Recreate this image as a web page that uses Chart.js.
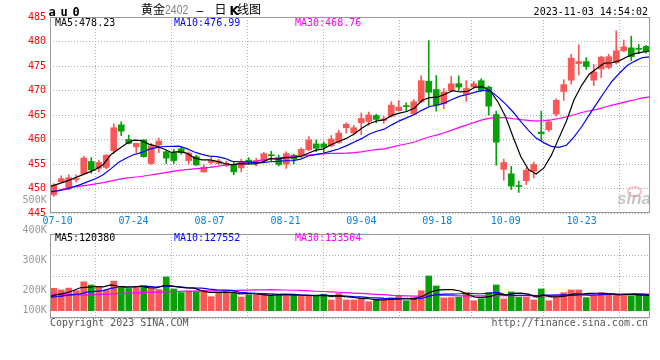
<!DOCTYPE html>
<html><head><meta charset="utf-8">
<script src="https://cdn.jsdelivr.net/npm/chart.js@4.4.0/dist/chart.umd.min.js"></script>
<style>
html,body{margin:0;padding:0;background:#fff;}
#wrap{position:relative;width:660px;height:360px;overflow:hidden;}
canvas{position:absolute;left:0;top:0;}
.t{position:absolute;white-space:pre;font-family:'DejaVu Sans Mono',monospace;font-size:10px;line-height:12px;color:#000;}
</style></head><body>
<div id="wrap">
<canvas id="pc" width="660" height="360"></canvas>
<canvas id="vc" width="660" height="360"></canvas>

<div class="t" style="left:48.5px;top:4.8px;font-weight:bold;font-size:12px;line-height:14px;letter-spacing:4.8px;">au0</div>
<div class="t" style="left:141px;top:2px;font-family:'Noto Sans CJK SC';font-size:12px;line-height:14px;">黄金</div>
<div class="t" style="left:165px;top:3px;font-family:'Liberation Sans';font-size:12.5px;line-height:14px;color:#808080;transform:scaleX(0.84);transform-origin:0 0;">2402</div>
<div class="t" style="left:196.5px;top:3.6px;font-family:'Liberation Sans';font-size:12px;line-height:14px;">–</div>
<div class="t" style="left:214.5px;top:2px;font-family:'Noto Sans CJK SC';font-size:12px;line-height:14px;">日</div>
<div class="t" style="left:229.5px;top:3.9px;font-family:'DejaVu Sans';font-weight:bold;font-size:12px;line-height:14px;">K</div>
<div class="t" style="left:237px;top:2px;font-family:'Noto Sans CJK SC';font-size:12px;line-height:14px;">线图</div>
<div class="t" style="right:12px;top:5.5px;">2023-11-03 14:54:02</div>

<div class="t" style="left:55px;top:17.2px;">MA5:478.23</div>
<div class="t" style="left:174px;top:17.2px;color:#0000ff;">MA10:476.99</div>
<div class="t" style="left:295px;top:17.2px;color:#ff00ff;">MA30:468.76</div>

<div class="t" style="left:55px;top:232.2px;">MA5:120380</div>
<div class="t" style="left:174px;top:232.2px;color:#0000ff;">MA10:127552</div>
<div class="t" style="left:295px;top:232.2px;color:#ff00ff;">MA30:133504</div>

<div class="t" style="left:22.6px;top:193.8px;color:#999;">500K</div>
<div class="t" style="left:22.6px;top:223.8px;color:#999;">400K</div>
<div class="t" style="left:22.6px;top:254.2px;color:#999;">300K</div>
<div class="t" style="left:22.6px;top:284.2px;color:#999;">200K</div>
<div class="t" style="left:22.6px;top:303.8px;color:#999;">100K</div>

<div class="t" style="left:50px;top:316.5px;color:#555;">Copyright 2023 SINA.COM</div>
<div class="t" style="right:12px;top:316.5px;color:#555;">http://finance.sina.com.cn</div>

<div style="position:absolute;left:627px;top:186px;width:11px;height:7px;border:2px solid rgba(235,120,120,0.45);border-radius:50%;"></div>
<div class="t" style="left:617px;top:189px;font-family:'Liberation Sans';font-style:italic;font-weight:bold;font-size:17px;line-height:20px;color:rgba(150,150,150,0.55);">sina</div>
</div>

<script>
// ---------------- data ----------------
const DATE_LABELS = ['07-10','07-24','08-07','08-21','09-04','09-18','10-09','10-23'];
const DATE_POS    = [1, 11, 21, 31, 41, 51, 60, 70];
const PRICE_TICKS = [445, 450, 455, 460, 465, 470, 475, 480, 485];

const OPEN = [448.7,451.4,449.9,451.8,453.0,455.5,454.1,454.3,457.7,463.0,
460.0,458.5,459.9,455.1,458.9,457.5,457.3,458.1,455.7,456.5,
453.4,455.3,455.1,454.7,454.8,454.2,455.8,455.5,455.7,456.9,
456.3,455.0,456.8,456.6,457.9,459.1,459.1,458.7,459.4,462.4,
461.35,463.4,463.7,464.9,463.9,464.75,465.9,466.9,465.2,467.7,
471.9,470.2,467.3,470.0,471.4,469.2,470.7,472.0,470.7,465.1,
453.9,453.0,450.6,451.6,453.5,461.5,462.0,465.2,469.8,472.1,
475.5,475.9,472.1,474.4,474.7,475.7,478.1,478.7,478.6,479.0];

const HIGH = [451.0,452.6,452.8,452.8,456.6,456.3,455.8,456.9,463.2,463.6,
460.9,459.3,460.0,459.2,460.3,457.7,458.0,458.5,457.5,456.8,
454.9,456.5,456.0,455.6,455.4,456.0,456.3,456.2,457.4,457.6,
456.8,457.5,457.0,458.3,460.6,459.9,459.5,460.8,461.9,463.4,
462.9,465.4,465.6,465.2,464.75,467.7,467.95,467.5,468.15,473.05,
480.2,473.05,470.4,472.9,473.0,472.0,471.9,472.4,470.9,465.8,
456.0,454.5,451.5,454.2,455.4,465.8,463.9,468.3,472.2,477.4,
479.3,476.7,475.3,477.0,477.4,482.2,480.3,481.1,479.4,479.2];

const LOW = [448.4,451.2,449.7,451.3,452.9,453.1,453.4,454.0,457.2,460.8,
459.1,457.3,456.4,454.9,457.3,455.1,455.1,457.0,455.0,454.7,
453.3,455.0,454.8,454.5,452.8,453.4,455.0,454.6,455.3,455.6,
454.6,454.1,455.0,456.3,457.7,457.5,457.3,458.5,459.2,461.3,
460.9,461.0,462.9,463.4,463.3,464.55,465.8,465.8,465.2,467.5,
466.8,465.8,466.3,469.8,470.0,467.8,470.5,469.8,465.0,454.75,
451.7,449.8,449.2,450.8,452.2,459.8,461.6,464.8,468.0,471.3,
473.2,474.3,471.0,472.6,474.4,475.4,477.9,476.1,477.5,477.6];

const CLOSE = [450.7,452.0,452.2,452.0,456.2,453.8,455.3,456.8,462.4,461.7,
459.2,459.2,456.5,458.7,459.7,456.2,455.7,457.3,457.2,454.8,
454.3,455.7,455.6,455.1,453.4,455.5,455.5,455.7,457.1,456.7,
454.9,457.1,456.0,458.0,459.9,458.2,458.4,460.1,461.3,463.1,
462.4,464.3,465.0,464.1,464.2,467.0,466.6,466.7,467.7,472.0,
469.65,467.1,469.7,471.35,470.7,470.4,471.35,470.0,466.8,459.45,
455.3,450.5,450.4,453.7,454.9,461.2,463.6,468.0,471.2,476.6,
475.9,474.9,473.8,476.8,476.9,478.1,478.9,476.9,478.4,478.0];

const MA5 = [450.4,450.9,451.4,452.0,452.62,453.24,453.9,454.82,456.9,458.0,
459.08,459.86,459.8,459.06,458.66,458.06,457.36,457.52,457.22,456.24,
455.86,455.86,455.52,455.1,454.82,455.06,455.02,455.04,455.44,456.1,
455.98,456.3,456.36,456.54,457.18,457.84,458.1,458.92,459.58,460.22,
461.06,462.24,463.22,463.78,464.0,464.92,465.38,465.72,466.44,468.0,
468.53,468.63,469.23,469.96,469.7,469.85,470.7,470.76,469.85,467.6,
464.58,460.41,456.49,453.87,452.96,454.14,456.76,460.28,463.78,468.12,
471.06,473.32,474.48,475.6,475.66,476.1,476.9,477.52,477.84,478.06];

const MA10 = [449.35,449.5,449.8,450.3,450.8,451.4,452.0,452.8,454.0,455.31,
456.16,456.88,457.31,457.98,458.33,458.57,458.61,458.66,458.14,457.45,
456.96,456.61,456.52,456.16,455.53,455.46,455.44,455.28,455.27,455.46,
455.52,455.66,455.7,455.99,456.64,456.91,457.2,457.64,458.06,458.7,
459.45,460.17,461.07,461.68,462.11,462.99,463.81,464.47,465.11,466.0,
466.73,467.0,467.48,468.2,468.85,469.19,469.67,470.0,469.9,468.65,
467.22,465.56,463.63,461.86,460.28,459.36,458.59,458.39,458.83,460.54,
462.6,465.04,467.38,469.69,471.89,473.58,475.11,476.0,476.72,476.86];

const MA30 = [449.1,449.6,450.0,450.3,450.5,450.7,450.95,451.2,451.5,451.85,
452.1,452.3,452.45,452.7,452.95,453.2,453.45,453.7,453.85,454.0,
454.15,454.3,454.5,454.75,454.9,455.1,455.3,455.55,455.8,456.07,
456.21,456.38,456.51,456.71,456.83,456.98,457.08,457.19,457.16,457.2,
457.31,457.48,457.76,457.94,458.09,458.45,458.82,459.13,459.48,460.05,
460.57,460.95,461.42,461.96,462.53,463.03,463.56,464.04,464.36,464.45,
464.46,464.24,464.05,463.91,463.74,463.84,464.02,464.28,464.61,465.06,
465.51,465.86,466.16,466.58,467.0,467.37,467.78,468.12,468.48,468.68];

// volume, in thousands
const VOL_K = [179,166,181,160,231,206,190,166,237,179,
178,188,201,179,169,270,174,145,157,154,
163,112,145,157,151,109,126,124,133,124,
132,121,126,114,123,115,132,86,138,86,
86,96,72,91,86,104,118,80,104,160,
278,198,101,104,108,144,80,96,144,206,
94,150,108,108,86,174,80,112,144,166,
166,104,118,144,133,133,118,118,123,118];

const VMA5 = [115,128,140,160,183.4,188.8,193.6,190.6,206,195.6,
190,189.6,196.6,185,183,201.4,198.6,187.4,183,180,
158.6,146.2,146.2,146.2,145.6,134.8,137.6,133.4,128.6,123.2,
127.8,126.8,127.2,123.4,123.2,119.8,122,114,118.8,111.4,
105.6,98.4,95.6,86.2,86.2,89.8,94.2,95.8,98.4,113.2,
148,164,168.2,168.2,157.8,131,107.4,106.4,114.4,134,
124,138,140.4,133.2,109.2,125.2,111.2,112,119.2,135.2,
133.6,138.4,139.6,139.6,133,126.4,129.2,129.2,125,122];

const VMA10 = [108,112,120,128,134,150,155,160,178,189.5,
189.4,191.6,193.6,195.5,189.3,195.7,194.1,192,184,181.5,
180,172.4,166.8,164.6,162.8,146.7,141.9,139.8,137.4,134.4,
131.3,132.2,130.3,126,123.2,123.8,124.4,120.6,121.1,117.3,
112.7,110.2,104.8,102.5,98.8,97.7,96.3,95.7,92.3,99.7,
118.9,129.1,132,133.3,135.5,139.5,135.7,137.3,141.3,145.9,
127.5,122.7,123.4,123.8,121.6,124.6,124.6,126.2,126.2,122.2,
129.4,124.8,125.8,129.4,134.1,130,133.8,134.4,132.3,127.5];

const VMA30 = [134,130,127,126,126,127,128,130,133,136,
140,143,145,147,149,151,153,155,156,157,
158,158,158,159,160,162,164,166,167,168.5,
166.9,165.4,163.6,162,158.4,155.4,153.5,150.8,147.5,144.4,
141.3,138.3,134,131,128.3,122.7,120.9,118.7,116.9,117.1,
121,123.8,122.4,120.6,119.2,120.3,118.8,117.9,118.2,121,
119.7,120.7,120.1,119.9,118.6,120.6,118.9,119.7,119.9,122.6,
125.3,125.5,127.1,128.8,130.4,131.4,131.4,132.6,133.3,131.9];

// ---------------- styling ----------------
const FONT = "'DejaVu Sans Mono', monospace";
const RED = '#fa5757', GREEN = '#08a008';
const GRID = '#b0b0b0', FRAME = '#999999';
const N = CLOSE.length;
const idx = CLOSE.map((_, i) => i);
const colors = idx.map(i => CLOSE[i] >= OPEN[i] ? RED : GREEN);

const frame = {
  id: 'frame',
  afterDraw(c) {
    const a = c.chartArea, g = c.ctx;
    g.save();
    g.strokeStyle = FRAME; g.lineWidth = 1;
    g.strokeRect(Math.round(a.left) + 0.5, Math.round(a.top) + 0.5,
                 Math.round(a.right - a.left) - 1, Math.round(a.bottom - a.top) - 1);
    g.restore();
  }
};

function candleAxis() {
  return { type: 'linear', min: -0.5, max: N - 0.5, offset: false, display: false };
}
function dateAxis(showLabels) {
  return {
    type: 'linear', min: 0, max: N - 1, offset: false, position: 'bottom',
    afterBuildTicks: s => { s.ticks = DATE_POS.map(v => ({ value: v })); },
    afterFit: s => { s.height = showLabels ? 20 : 0; },
    grid: { color: GRID, lineWidth: 1, drawTicks: false },
    border: { display: false, dash: [1, 2] },
    ticks: {
      display: showLabels, autoSkip: false, maxRotation: 0, minRotation: 0, padding: 2,
      color: '#0a82d6', font: { family: FONT, size: 10 },
      callback: (v, i) => DATE_LABELS[i]
    }
  };
}
function maLine(arr, color, axisY) {
  return {
    type: 'line', data: arr.map((v, k) => ({ x: k, y: v })),
    xAxisID: 'xl', yAxisID: axisY, borderColor: color, borderWidth: 1.2,
    pointRadius: 0, tension: 0, fill: false, order: 0
  };
}

Chart.defaults.font.family = FONT;

// ---------------- price chart ----------------
new Chart(document.getElementById('pc'), {
  type: 'bar',
  data: {
    datasets: [
      maLine(MA5, '#000000', 'y'),
      maLine(MA10, '#0000ff', 'y'),
      maLine(MA30, '#ff00ff', 'y'),
      {
        type: 'bar', data: idx.map(i => ({ x: i, y: [OPEN[i], CLOSE[i]] })),
        xAxisID: 'xc', yAxisID: 'y', backgroundColor: colors, borderWidth: 0,
        barThickness: 6, minBarLength: 1, grouped: false, order: 1
      },
      {
        type: 'bar', data: idx.map(i => ({ x: i, y: [LOW[i], HIGH[i]] })),
        xAxisID: 'xc', yAxisID: 'y', backgroundColor: colors, borderWidth: 0,
        barThickness: 1, minBarLength: 1, grouped: false, order: 2
      }
    ]
  },
  options: {
    responsive: false, animation: false, devicePixelRatio: 1,
    layout: { padding: { left: 0, right: 10, top: 17, bottom: 127 } },
    plugins: { legend: { display: false }, tooltip: { enabled: false } },
    scales: {
      xc: candleAxis(),
      xl: dateAxis(true),
      y: {
        type: 'linear', min: PRICE_TICKS[0], max: PRICE_TICKS[PRICE_TICKS.length - 1],
        position: 'left',
        afterFit: s => { s.width = 50; },
        afterBuildTicks: s => { s.ticks = PRICE_TICKS.map(v => ({ value: v })); },
        grid: { color: GRID, lineWidth: 1, drawTicks: false },
        border: { display: false, dash: [1, 2] },
        ticks: { color: '#ff0000', padding: 4, font: { family: FONT, size: 10 }, callback: v => String(v) }
      }
    }
  },
  plugins: [frame]
});

// ---------------- volume chart ----------------
new Chart(document.getElementById('vc'), {
  type: 'bar',
  data: {
    datasets: [
      maLine(VMA5, '#000000', 'yv'),
      maLine(VMA10, '#0000ff', 'yv'),
      maLine(VMA30, '#ff00ff', 'yv'),
      {
        type: 'bar', data: idx.map(i => ({ x: i, y: VOL_K[i] })),
        xAxisID: 'xc', yAxisID: 'yv', backgroundColor: colors, borderWidth: 0,
        barThickness: 6, grouped: false, order: 1
      }
    ]
  },
  options: {
    responsive: false, animation: false, devicePixelRatio: 1,
    layout: { padding: { left: 50, right: 10, top: 234, bottom: 42 } },
    plugins: { legend: { display: false }, tooltip: { enabled: false } },
    scales: {
      xc: candleAxis(),
      xl: dateAxis(false),
      yv: { type: 'linear', min: -58.4, max: 613.6, display: false },
      yg: {
        type: 'linear', min: 0, max: 4, position: 'left',
        afterFit: s => { s.width = 0; },
        grid: { color: GRID, lineWidth: 1, drawTicks: false },
        border: { display: false, dash: [1, 2] },
        ticks: { display: false, stepSize: 1 }
      }
    }
  },
  plugins: [frame]
});
</script>
</body></html>
